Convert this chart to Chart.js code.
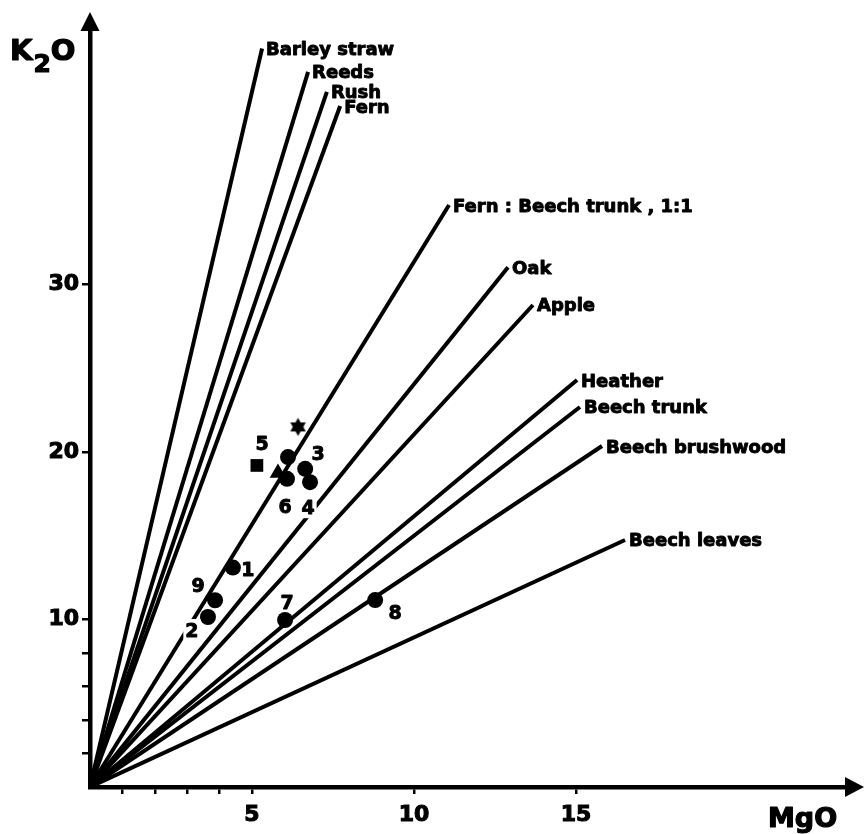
<!DOCTYPE html>
<html>
<head>
<meta charset="utf-8">
<script src="https://cdn.jsdelivr.net/npm/chart.js@4.4.1/dist/chart.umd.min.js"></script>
<style>
  html, body { margin: 0; padding: 0; background: #fff; }
  #wrap { width: 864px; height: 834px; }
</style>
</head>
<body>
<div id="wrap"><canvas id="c" width="864" height="834"></canvas></div>
<script>
// K2O / MgO ratio lines of the fuel ashes, each drawn from the origin
const fuelNames = ['Barley straw', 'Reeds', 'Rush', 'Fern', 'Fern : Beech trunk , 1:1', 'Oak', 'Apple',
                   'Heather', 'Beech trunk', 'Beech brushwood', 'Beech leaves'];
const fuelMgO = [5.31, 6.73, 7.31, 7.72, 11.08, 12.9, 13.67, 15.03, 15.12, 15.8, 16.51];
const fuelK2O = [44.1, 42.7, 41.5, 40.66, 34.75, 31.04, 28.78, 24.3, 22.69, 20.36, 14.75];

// Numbered glass samples
const sampleIds = ['1', '9', '2', '7', '8', '5', '6', '3', '4'];
const sampleMgO = [4.41, 3.86, 3.64, 6.02, 8.8, 6.11, 6.08, 6.64, 6.79];
const sampleK2O = [13.1, 11.15, 10.15, 9.97, 11.16, 19.7, 18.4, 19.0, 18.2];

// Further glasses with their own symbols
const otherSymbols = ['square', 'triangle', 'star'];
const otherMgO = [5.15, 5.8, 6.42];
const otherK2O = [19.2, 18.75, 21.5];

// Axis ticks and the ones that carry a number
const xTicks = [1, 2, 3, 4, 5, 10, 15];
const xTickLabels = ['5', '10', '15'];
const yTicks = [2, 4, 6, 8, 10, 20, 30];
const yTickLabels = ['10', '20', '30'];

// ---- styling ----
const FONT = 'DejaVu Sans';
const INK = '#000';
// where each sample number sits relative to its dot; some mask the line under them
const sampleLabelStyle = {
  '1': { dx: 15, dy: 1 },
  '9': { dx: -17, dy: -15 },
  '2': { dx: -16, dy: 13, mask: true },
  '7': { dx: 2, dy: -18 },
  '8': { dx: 20, dy: 12 },
  '5': { dx: -26, dy: -14 },
  '6': { dx: -2, dy: 27 },
  '3': { dx: 13, dy: -16 },
  '4': { dx: -2, dy: 25, mask: true }
};

// filled six-pointed star symbol
function makeHexagram(size) {
  const cv = document.createElement('canvas');
  cv.width = size; cv.height = size;
  const g = cv.getContext('2d');
  const c = size / 2, r = size / 2 - 0.5;
  g.fillStyle = INK;
  for (const rot of [-Math.PI / 2, Math.PI / 2]) {
    g.beginPath();
    for (let i = 0; i < 3; i++) {
      const a = rot + i * 2 * Math.PI / 3;
      const px = c + r * Math.cos(a), py = c + r * Math.sin(a);
      if (i === 0) g.moveTo(px, py); else g.lineTo(px, py);
    }
    g.closePath();
    g.fill();
  }
  return cv;
}

const symbolStyle = {
  square: { pointStyle: 'rect', pointRadius: 9 },
  triangle: { pointStyle: 'triangle', pointRadius: 9.5 },
  star: { pointStyle: makeHexagram(19), pointRadius: 9.5 }
};

const datasets = [];
fuelNames.forEach((name, i) => {
  datasets.push({
    label: name,
    kind: 'fuel',
    data: [{ x: 0, y: 0 }, { x: fuelMgO[i], y: fuelK2O[i] }],
    showLine: true,
    borderColor: INK,
    borderWidth: 4,
    pointRadius: 0,
    order: 2
  });
});
datasets.push({
  label: 'samples',
  kind: 'samples',
  data: sampleIds.map((id, i) => ({ x: sampleMgO[i], y: sampleK2O[i] })),
  showLine: false,
  pointStyle: 'circle',
  pointRadius: 8,
  backgroundColor: INK,
  borderWidth: 0,
  order: 0
});
otherSymbols.forEach((s, i) => {
  datasets.push(Object.assign({
    label: s,
    kind: 'other',
    data: [{ x: otherMgO[i], y: otherK2O[i] }],
    showLine: false,
    backgroundColor: INK,
    borderColor: INK,
    borderWidth: 0,
    order: 0
  }, symbolStyle[s]));
});

// heavy lettering: fill plus a thin outline
function heavyText(ctx, text, x, y) {
  ctx.fillText(text, x, y);
  ctx.strokeText(text, x, y);
}

// arrows, axis names, line names and sample numbers
const annotate = {
  id: 'annotate',
  afterDatasetsDraw(chart) {
    const ctx = chart.ctx;
    const xs = chart.scales.x, ys = chart.scales.y;
    const ax = xs.getPixelForValue(0), ay = ys.getPixelForValue(0);
    ctx.save();
    ctx.fillStyle = INK;
    ctx.strokeStyle = INK;
    ctx.lineWidth = 0.9;
    ctx.lineJoin = 'round';

    // arrow heads at the ends of both axes
    const top = chart.chartArea.top;
    ctx.beginPath();
    ctx.moveTo(ax, 12); ctx.lineTo(ax - 9.5, top + 1); ctx.lineTo(ax + 9.5, top + 1); ctx.closePath(); ctx.fill();
    const right = chart.chartArea.right;
    ctx.beginPath();
    ctx.moveTo(864, ay); ctx.lineTo(right - 1, ay - 10); ctx.lineTo(right - 1, ay + 10); ctx.closePath(); ctx.fill();

    // axis names
    ctx.textAlign = 'left';
    ctx.textBaseline = 'alphabetic';
    ctx.lineWidth = 1.2;
    ctx.font = `bold 29px "${FONT}"`;
    heavyText(ctx, 'K', 10, 60);
    const w = ctx.measureText('K').width;
    ctx.font = `bold 25px "${FONT}"`;
    heavyText(ctx, '2', 10 + w + 1, 72);
    const w2 = ctx.measureText('2').width;
    ctx.font = `bold 29px "${FONT}"`;
    heavyText(ctx, 'O', 10 + w + w2 + 1, 60);
    ctx.font = `bold 27px "${FONT}"`;
    heavyText(ctx, 'MgO', 768, 827);

    // names at the upper ends of the ratio lines
    ctx.lineWidth = 0.9;
    ctx.font = `bold 18px "${FONT}"`;
    chart.data.datasets.forEach((ds, i) => {
      if (ds.kind !== 'fuel') return;
      const pt = chart.getDatasetMeta(i).data[1];
      heavyText(ctx, ds.label, pt.x + 4, pt.y + 6.5);
    });

    // sample numbers
    const sIdx = chart.data.datasets.findIndex(d => d.kind === 'samples');
    const pts = chart.getDatasetMeta(sIdx).data;
    ctx.textAlign = 'center';
    ctx.font = `bold 19px "${FONT}"`;
    sampleIds.forEach((id, i) => {
      const st = sampleLabelStyle[id];
      const cx = pts[i].x + st.dx, cy = pts[i].y + st.dy;
      if (st.mask) {
        const tw = ctx.measureText(id).width + 4;
        ctx.fillStyle = '#fff';
        ctx.fillRect(cx - tw / 2, cy - 11, tw, 22);
        ctx.fillStyle = INK;
      }
      heavyText(ctx, id, cx, cy + 7);
    });
    ctx.restore();
  }
};

const tickFont = { family: FONT, weight: 'bold', size: 22 };

new Chart(document.getElementById('c'), {
  type: 'scatter',
  data: { datasets },
  options: {
    responsive: false,
    devicePixelRatio: 1,
    animation: false,
    layout: { padding: { top: 30, right: 18, left: 0, bottom: 0 } },
    plugins: { legend: { display: false }, tooltip: { enabled: false } },
    scales: {
      x: {
        type: 'linear',
        min: 0,
        max: 23.33,
        afterBuildTicks: s => { s.ticks = xTicks.map(v => ({ value: v })); },
        afterFit: s => { s.height = 47; },
        ticks: {
          autoSkip: false, maxRotation: 0, padding: 8, color: INK, font: tickFont,
          textStrokeColor: INK, textStrokeWidth: 1.1,
          callback: v => xTickLabels.includes(String(v)) ? String(v) : ''
        },
        grid: { drawOnChartArea: false, drawTicks: true, tickLength: 7, lineWidth: 2.5, color: INK, tickColor: INK },
        border: { display: true, width: 4.5, color: INK }
      },
      y: {
        type: 'linear',
        min: 0,
        max: 45.2,
        afterBuildTicks: s => { s.ticks = yTicks.map(v => ({ value: v })); },
        afterFit: s => { s.width = 90; },
        ticks: {
          autoSkip: false, padding: 3, color: INK, font: tickFont,
          textStrokeColor: INK, textStrokeWidth: 1.1,
          callback: v => yTickLabels.includes(String(v)) ? String(v) : ''
        },
        grid: { drawOnChartArea: false, drawTicks: true, tickLength: 8, lineWidth: 2.5, color: INK, tickColor: INK },
        border: { display: true, width: 4.5, color: INK }
      }
    }
  },
  plugins: [annotate]
});
</script>
</body>
</html>
